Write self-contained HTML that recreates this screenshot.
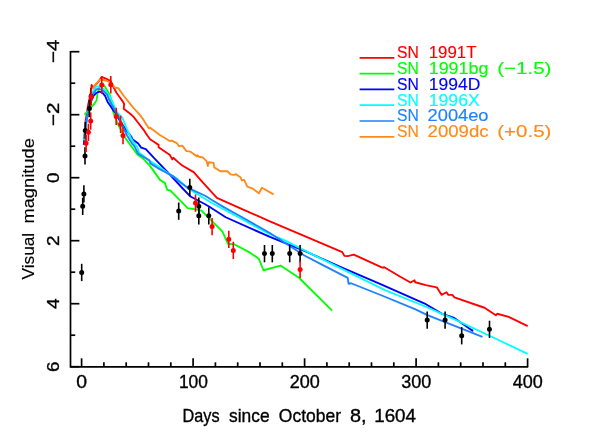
<!DOCTYPE html>
<html><head><meta charset="utf-8"><title>SN 1604 light curve</title>
<style>
html,body{margin:0;padding:0;background:#fff;}
body{width:598px;height:443px;overflow:hidden;font-family:"Liberation Sans",sans-serif;}
svg{display:block;will-change:transform;}
text{font-family:"Liberation Sans",sans-serif;}
</style></head><body>
<svg width="598" height="443" viewBox="0 0 598 443">
<rect x="0" y="0" width="598" height="443" fill="#ffffff"/>

<g transform="translate(0 0.45)" fill="none" stroke-width="1.85" stroke-linejoin="round" stroke-linecap="butt">
<polyline stroke="#ff0000" points="84.6,143.0 85.5,121.0 88.2,104.0 90.3,95.0 91.4,88.0 91.6,84.4 93.2,87.2 96.0,83.9 99.5,79.8 101.6,76.5 106.5,78.5 110.8,80.6 113.2,86.2 116.6,92.5 119.9,97.1 122.3,100.4 124.1,103.4 123.7,108.3 130.5,113.6 133.4,116.2 138.5,122.8 143.6,129.4 147.3,135.0 150.4,139.1 155.0,142.1 158.6,144.4 158.6,146.7 169.9,154.5 172.3,158.9 173.3,157.3 178.4,161.9 182.3,165.0 193.7,171.7 200.7,179.7 216.9,197.5 239.9,207.6 269.9,221.0 320.0,242.2 342.3,251.7 344.4,255.4 347.7,255.7 353.8,254.1 382.3,267.2 384.3,266.8 399.9,276.0 410.5,282.1 414.5,279.8 415.2,281.8 425.8,284.6 436.8,286.9 441.5,294.4 446.5,291.8 448.3,294.4 452.3,294.5 454.4,297.0 484.5,307.3 495.9,314.9 497.2,313.3 508.7,316.5 527.7,325.7"/>
<polyline stroke="#00ff00" points="84.5,114.2 89.5,108.5 93.9,104.0 96.6,99.8 97.6,92.3 99.5,86.5 101.5,84.0 104.2,85.0 107.0,89.5 109.8,94.4 110.7,98.4 113.1,111.1 118.2,124.3 125.3,137.5 137.2,153.8 143.3,158.4 150.0,165.4 156.8,174.9 160.2,179.7 164.9,182.4 167.2,189.4 170.2,190.0 187.7,207.6 195.2,209.0 201.5,210.2 222.5,231.1 227.9,243.3 234.7,244.0 250.0,252.2 258.8,258.3 263.5,269.8 280.5,265.1 299.0,277.3 332.1,310.2"/>
<polyline stroke="#0000ff" points="83.8,144.5 84.8,132.8 86.5,120.0 88.5,110.8 91.0,101.0 93.5,95.5 96.5,92.3 99.3,91.2 102.0,92.0 105.1,95.5 107.6,101.5 110.1,105.0 113.1,109.6 115.9,112.6 119.2,119.2 125.3,128.4 131.4,136.3 132.5,138.8 138.2,143.1 141.2,147.2 145.8,148.7 154.4,158.0 166.9,170.9 182.5,187.8 190.5,196.1 204.7,203.6 209.0,206.1 225.7,216.8 269.9,236.5 306.9,251.5 340.3,266.5 380.0,283.4 424.7,303.1 442.1,313.4 454.3,317.5 472.5,330.3 471.2,329.0"/>
<polyline stroke="#00ffff" points="84.0,140.0 86.0,124.0 88.5,110.0 91.0,98.0 93.5,90.0 95.9,86.5 98.0,86.0 100.3,86.4 103.0,88.2 106.5,92.0 110.2,96.3 112.5,101.5 115.2,108.5 118.5,113.5 122.3,117.2 126.8,128.4 130.9,137.5 134.0,142.5 137.3,146.5 139.2,152.3 150.0,160.7 158.8,166.1 170.3,174.2 177.1,178.3 187.2,187.4 195.0,192.3 211.9,202.5 239.9,217.6 252.5,224.5 269.9,233.8 283.8,239.4 320.0,257.7 385.0,289.6 424.7,305.8 442.1,313.4 455.6,319.5 494.9,337.8 527.7,353.5"/>
<polyline stroke="#1e82ff" points="84.1,138.0 85.5,126.0 88.5,110.8 91.0,99.5 93.4,93.2 96.2,89.0 99.0,88.3 103.0,90.3 107.1,94.2 109.6,100.4 114.5,109.0 118.5,116.0 122.0,124.0 125.3,131.4 127.0,135.0 132.1,143.1 134.4,145.6 138.2,153.3 149.4,159.9 150.4,162.9 158.8,168.2 166.9,172.6 173.0,175.6 179.1,181.0 187.1,186.7 195.0,190.6 205.2,195.3 212.3,199.8 223.8,206.7 239.9,215.6 269.9,232.5 277.1,237.3 304.4,255.0 320.0,263.2 347.7,277.4 348.6,283.4 351.1,282.8 380.0,294.3 415.0,308.7 427.4,314.6 482.5,336.4"/>
<polyline stroke="#ff8a1a" points="92.9,87.6 96.0,83.5 99.6,79.5 103.0,79.3 106.5,80.3 110.0,82.0 115.2,87.3 118.3,87.7 124.4,96.3 131.4,105.0 133.5,107.5 140.5,115.2 143.7,119.7 148.7,127.8 150.2,127.3 159.8,134.6 164.9,137.5 169.7,140.6 171.8,140.1 176.8,142.6 178.9,145.7 182.2,145.2 186.5,150.7 190.5,151.2 196.6,155.8 197.6,154.8 198.7,156.3 202.7,156.9 206.8,161.0 207.8,165.6 208.8,161.8 213.6,162.5 214.3,166.9 220.4,170.8 227.5,170.8 230.5,173.9 233.6,174.4 236.1,173.8 240.7,177.0 241.7,180.0 244.2,179.4 247.3,186.2 252.8,188.2 258.9,192.9 261.9,187.3 273.6,193.9"/>
</g>
<g stroke="#000000" stroke-width="1.6" fill="#000000">
<line x1="81.7" y1="263.8" x2="81.7" y2="281.1"/><circle cx="81.7" cy="272.4" r="1.7"/>
<line x1="82.7" y1="197.7" x2="82.7" y2="215.0"/><circle cx="82.7" cy="206.3" r="1.7"/>
<line x1="83.9" y1="185.3" x2="83.9" y2="202.6"/><circle cx="83.9" cy="193.9" r="1.7"/>
<line x1="85.0" y1="147.3" x2="85.0" y2="164.6"/><circle cx="85.0" cy="155.9" r="1.7"/>
<line x1="85.3" y1="121.9" x2="85.3" y2="139.2"/><circle cx="85.3" cy="130.5" r="1.7"/>
<line x1="89.4" y1="99.8" x2="89.4" y2="117.1"/><circle cx="89.4" cy="108.4" r="1.7"/>
<line x1="91.1" y1="87.7" x2="91.1" y2="105.0"/><circle cx="91.1" cy="96.3" r="1.7"/>
<line x1="189.8" y1="178.8" x2="189.8" y2="196.1"/><circle cx="189.8" cy="187.4" r="1.7"/>
<line x1="178.7" y1="202.5" x2="178.7" y2="219.8"/><circle cx="178.7" cy="211.1" r="1.7"/>
<line x1="198.8" y1="197.6" x2="198.8" y2="214.9"/><circle cx="198.8" cy="206.2" r="1.7"/>
<line x1="198.8" y1="207.1" x2="198.8" y2="224.4"/><circle cx="198.8" cy="215.7" r="1.7"/>
<line x1="208.8" y1="207.2" x2="208.8" y2="224.5"/><circle cx="208.8" cy="215.8" r="1.7"/>
<line x1="264.5" y1="245.0" x2="264.5" y2="262.3"/><circle cx="264.5" cy="253.6" r="1.7"/>
<line x1="272.3" y1="245.0" x2="272.3" y2="262.3"/><circle cx="272.3" cy="253.6" r="1.7"/>
<line x1="289.7" y1="245.0" x2="289.7" y2="262.3"/><circle cx="289.7" cy="253.6" r="1.7"/>
<line x1="300.1" y1="245.0" x2="300.1" y2="262.3"/><circle cx="300.1" cy="253.6" r="1.7"/>
<line x1="427.2" y1="311.5" x2="427.2" y2="328.8"/><circle cx="427.2" cy="320.1" r="1.7"/>
<line x1="445.1" y1="311.5" x2="445.1" y2="328.8"/><circle cx="445.1" cy="320.1" r="1.7"/>
<line x1="461.7" y1="327.1" x2="461.7" y2="344.4"/><circle cx="461.7" cy="335.7" r="1.7"/>
<line x1="489.5" y1="320.7" x2="489.5" y2="338.0"/><circle cx="489.5" cy="329.3" r="1.7"/>
</g>
<g stroke="#ff0000" stroke-width="1.6" fill="#ff0000">
<line x1="86.1" y1="134.7" x2="86.1" y2="152.0"/><circle cx="86.1" cy="143.3" r="1.7"/>
<line x1="88.4" y1="123.7" x2="88.4" y2="141.0"/><circle cx="88.4" cy="132.3" r="1.7"/>
<line x1="90.7" y1="112.4" x2="90.7" y2="129.7"/><circle cx="90.7" cy="121.0" r="1.7"/>
<line x1="91.3" y1="88.2" x2="91.3" y2="105.5"/><circle cx="91.3" cy="96.8" r="1.7"/>
<line x1="101.8" y1="76.4" x2="101.8" y2="93.7"/><circle cx="101.8" cy="85.0" r="1.7"/>
<line x1="110.8" y1="76.1" x2="110.8" y2="93.4"/><circle cx="110.8" cy="84.7" r="1.7"/>
<line x1="116.2" y1="107.8" x2="116.2" y2="125.1"/><circle cx="116.2" cy="116.4" r="1.7"/>
<line x1="120.6" y1="115.7" x2="120.6" y2="133.0"/><circle cx="120.6" cy="124.3" r="1.7"/>
<line x1="123.0" y1="126.9" x2="123.0" y2="144.2"/><circle cx="123.0" cy="135.5" r="1.7"/>
<line x1="195.5" y1="194.5" x2="195.5" y2="211.8"/><circle cx="195.5" cy="203.1" r="1.7"/>
<line x1="212.1" y1="217.9" x2="212.1" y2="235.2"/><circle cx="212.1" cy="226.5" r="1.7"/>
<line x1="228.8" y1="230.7" x2="228.8" y2="248.0"/><circle cx="228.8" cy="239.3" r="1.7"/>
<line x1="233.3" y1="241.8" x2="233.3" y2="259.1"/><circle cx="233.3" cy="250.4" r="1.7"/>
<line x1="300.1" y1="260.8" x2="300.1" y2="278.1"/><circle cx="300.1" cy="269.4" r="1.7"/>
</g>
<g stroke="#000" stroke-width="1.7" fill="none" stroke-linecap="butt">
<path d="M70.5 51.1 V366.9 H528.2"/>
<line x1="81.6" y1="366.9" x2="81.6" y2="358.3"/>
<line x1="103.9" y1="366.9" x2="103.9" y2="362.3"/>
<line x1="126.2" y1="366.9" x2="126.2" y2="362.3"/>
<line x1="148.5" y1="366.9" x2="148.5" y2="362.3"/>
<line x1="170.8" y1="366.9" x2="170.8" y2="362.3"/>
<line x1="193.1" y1="366.9" x2="193.1" y2="358.3"/>
<line x1="215.4" y1="366.9" x2="215.4" y2="362.3"/>
<line x1="237.7" y1="366.9" x2="237.7" y2="362.3"/>
<line x1="260.0" y1="366.9" x2="260.0" y2="362.3"/>
<line x1="282.3" y1="366.9" x2="282.3" y2="362.3"/>
<line x1="304.6" y1="366.9" x2="304.6" y2="358.3"/>
<line x1="326.9" y1="366.9" x2="326.9" y2="362.3"/>
<line x1="349.2" y1="366.9" x2="349.2" y2="362.3"/>
<line x1="371.5" y1="366.9" x2="371.5" y2="362.3"/>
<line x1="393.8" y1="366.9" x2="393.8" y2="362.3"/>
<line x1="416.1" y1="366.9" x2="416.1" y2="358.3"/>
<line x1="438.4" y1="366.9" x2="438.4" y2="362.3"/>
<line x1="460.7" y1="366.9" x2="460.7" y2="362.3"/>
<line x1="483.0" y1="366.9" x2="483.0" y2="362.3"/>
<line x1="505.3" y1="366.9" x2="505.3" y2="362.3"/>
<line x1="527.6" y1="366.9" x2="527.6" y2="358.3"/>
<line x1="70.5" y1="51.7" x2="79.4" y2="51.7"/>
<line x1="70.5" y1="83.2" x2="75.2" y2="83.2"/>
<line x1="70.5" y1="114.7" x2="79.4" y2="114.7"/>
<line x1="70.5" y1="146.2" x2="75.2" y2="146.2"/>
<line x1="70.5" y1="177.7" x2="79.4" y2="177.7"/>
<line x1="70.5" y1="209.2" x2="75.2" y2="209.2"/>
<line x1="70.5" y1="240.7" x2="79.4" y2="240.7"/>
<line x1="70.5" y1="272.2" x2="75.2" y2="272.2"/>
<line x1="70.5" y1="303.7" x2="79.4" y2="303.7"/>
<line x1="70.5" y1="335.2" x2="75.2" y2="335.2"/>
<line x1="70.5" y1="366.7" x2="79.4" y2="366.7"/>
</g>
<g font-size="18.2" fill="#000" stroke="#000" stroke-width="0.35">
<text x="76.3" y="388.2" textLength="10.8" lengthAdjust="spacingAndGlyphs">0</text>
<text x="178.9" y="388.2" textLength="29.0" lengthAdjust="spacingAndGlyphs">100</text>
<text x="289.7" y="388.2" textLength="30.1" lengthAdjust="spacingAndGlyphs">200</text>
<text x="401.2" y="388.2" textLength="30.1" lengthAdjust="spacingAndGlyphs">300</text>
<text x="512.7" y="388.2" textLength="30.1" lengthAdjust="spacingAndGlyphs">400</text>
</g><g font-size="17.0" fill="#000" stroke="#000" stroke-width="0.35">
<text transform="translate(58.7 62.9) rotate(-90)" x="0" y="0" textLength="23.4" lengthAdjust="spacingAndGlyphs">−4</text>
<text transform="translate(58.7 125.9) rotate(-90)" x="0" y="0" textLength="23.4" lengthAdjust="spacingAndGlyphs">−2</text>
<text transform="translate(58.7 182.9) rotate(-90)" x="0" y="0" textLength="10.5" lengthAdjust="spacingAndGlyphs">0</text>
<text transform="translate(58.7 245.9) rotate(-90)" x="0" y="0" textLength="10.5" lengthAdjust="spacingAndGlyphs">2</text>
<text transform="translate(58.7 309.1) rotate(-90)" x="0" y="0" textLength="10.7" lengthAdjust="spacingAndGlyphs">4</text>
<text transform="translate(58.7 371.9) rotate(-90)" x="0" y="0" textLength="10.5" lengthAdjust="spacingAndGlyphs">6</text>
</g><g font-size="18.2" fill="#000" stroke="#000" stroke-width="0.35">
<text x="182.6" y="421.8" textLength="37.0" lengthAdjust="spacingAndGlyphs">Days</text>
<text x="229.0" y="421.8" textLength="40.6" lengthAdjust="spacingAndGlyphs">since</text>
<text x="278.8" y="421.8" textLength="62.2" lengthAdjust="spacingAndGlyphs">October</text>
<text x="350.0" y="421.8" textLength="16.6" lengthAdjust="spacingAndGlyphs">8,</text>
<text x="374.2" y="421.8" textLength="41.8" lengthAdjust="spacingAndGlyphs">1604</text>
</g><g font-size="17.0" fill="#000" stroke="#000" stroke-width="0.15">
<text transform="translate(34 279.5) rotate(-90)" x="0" y="0" textLength="46.7" lengthAdjust="spacingAndGlyphs">Visual</text>
<text transform="translate(34 223.5) rotate(-90)" x="0" y="0" textLength="85.3" lengthAdjust="spacingAndGlyphs">magnitude</text>
</g>
<g font-size="17.4">
<line x1="359.6" y1="57.9" x2="394.3" y2="57.9" stroke="#ff0000" stroke-width="1.7"/>
<text x="397.1" y="58.1" fill="#ff0000" stroke="#ff0000" stroke-width="0.15" textLength="21.8" lengthAdjust="spacingAndGlyphs">SN</text>
<text x="428.7" y="58.1" fill="#ff0000" stroke="#ff0000" stroke-width="0.15" textLength="47.9" lengthAdjust="spacingAndGlyphs">1991T</text>
<line x1="359.6" y1="73.6" x2="394.3" y2="73.6" stroke="#00ff00" stroke-width="1.7"/>
<text x="397.1" y="73.9" fill="#00ff00" stroke="#00ff00" stroke-width="0.15" textLength="21.8" lengthAdjust="spacingAndGlyphs">SN</text>
<text x="428.7" y="73.9" fill="#00ff00" stroke="#00ff00" stroke-width="0.15" textLength="59.8" lengthAdjust="spacingAndGlyphs">1991bg</text>
<text x="497.2" y="73.9" fill="#00ff00" stroke="#00ff00" stroke-width="0.15" textLength="54.2" lengthAdjust="spacingAndGlyphs">(−1.5)</text>
<line x1="359.6" y1="89.4" x2="394.3" y2="89.4" stroke="#0000ff" stroke-width="1.7"/>
<text x="397.1" y="89.7" fill="#0000ff" stroke="#0000ff" stroke-width="0.15" textLength="21.8" lengthAdjust="spacingAndGlyphs">SN</text>
<text x="428.7" y="89.7" fill="#0000ff" stroke="#0000ff" stroke-width="0.15" textLength="51.6" lengthAdjust="spacingAndGlyphs">1994D</text>
<line x1="359.6" y1="105.2" x2="394.3" y2="105.2" stroke="#00ffff" stroke-width="1.7"/>
<text x="397.1" y="105.5" fill="#00ffff" stroke="#00ffff" stroke-width="0.15" textLength="21.8" lengthAdjust="spacingAndGlyphs">SN</text>
<text x="428.7" y="105.5" fill="#00ffff" stroke="#00ffff" stroke-width="0.15" textLength="51.1" lengthAdjust="spacingAndGlyphs">1996X</text>
<line x1="359.6" y1="121.0" x2="394.3" y2="121.0" stroke="#1e82ff" stroke-width="1.7"/>
<text x="397.1" y="121.3" fill="#1e82ff" stroke="#1e82ff" stroke-width="0.15" textLength="21.8" lengthAdjust="spacingAndGlyphs">SN</text>
<text x="427.6" y="121.3" fill="#1e82ff" stroke="#1e82ff" stroke-width="0.15" textLength="60.9" lengthAdjust="spacingAndGlyphs">2004eo</text>
<line x1="359.6" y1="136.8" x2="394.3" y2="136.8" stroke="#ff8a1a" stroke-width="1.7"/>
<text x="397.1" y="137.1" fill="#ff8a1a" stroke="#ff8a1a" stroke-width="0.15" textLength="21.8" lengthAdjust="spacingAndGlyphs">SN</text>
<text x="427.6" y="137.1" fill="#ff8a1a" stroke="#ff8a1a" stroke-width="0.15" textLength="60.9" lengthAdjust="spacingAndGlyphs">2009dc</text>
<text x="497.2" y="137.1" fill="#ff8a1a" stroke="#ff8a1a" stroke-width="0.15" textLength="54.2" lengthAdjust="spacingAndGlyphs">(+0.5)</text>
</g>
</svg></body></html>
